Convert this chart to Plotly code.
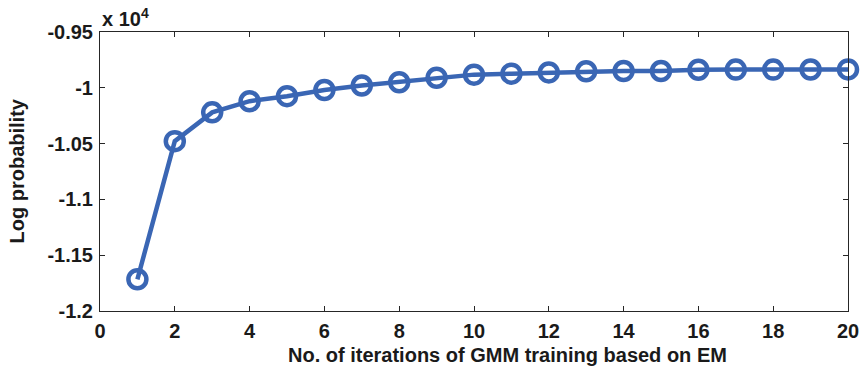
import plotly.graph_objects as go

iterations = list(range(1, 21))
log_prob = [-11716, -10478, -10220, -10120, -10075, -10020, -9980, -9950, -9910,
            -9882, -9873, -9862, -9852, -9850, -9850, -9838, -9837, -9837, -9836, -9835]

y_tick_vals = [-1.2, -1.15, -1.1, -1.05, -1.0, -0.95]
y_tick_text = ["-1.2", "-1.15", "-1.1", "-1.05", "-1", "-0.95"]
x_tick_vals = list(range(0, 21, 2))

x_title = "No. of iterations of GMM training based on EM"
y_title = "Log probability"
exp_label = "x 10<sup>4</sup>"

scale = 1e4
font_family = "Liberation Sans, Arial, sans-serif"
blue = "#3A66B4"
axis_col = "#262626"
txt_col = "#1a1a1a"

fig = go.Figure()
fig.add_trace(go.Scatter(
    x=iterations,
    y=[v / scale for v in log_prob],
    mode="lines+markers",
    line=dict(color=blue, width=4.5),
    marker=dict(symbol="circle-open", size=18, color=blue, line=dict(width=4.5, color=blue)),
    cliponaxis=False,
    showlegend=False,
))

axis_common = dict(
    showline=True, linecolor=axis_col, linewidth=1, mirror="ticks",
    ticks="inside", ticklen=5, tickcolor=axis_col, tickwidth=1,
    showgrid=False, zeroline=False, automargin=False,
    tickfont=dict(family=font_family, size=20, color=txt_col, weight="bold"),
)

fig.update_xaxes(range=[0, 20], tickvals=x_tick_vals, ticklabelstandoff=2, **axis_common)
fig.update_yaxes(range=[-1.2, -0.95], tickvals=y_tick_vals, ticktext=y_tick_text,
                 ticklabelstandoff=2, **axis_common)

title_font = dict(family=font_family, size=20, color=txt_col)
fig.add_annotation(xref="paper", yref="paper", x=0, y=1, xanchor="left", yanchor="bottom",
                   yshift=0, text="<b>" + exp_label + "</b>", showarrow=False,
                   font=title_font)
fig.add_annotation(xref="paper", yref="paper", x=0.545, y=0, xanchor="center", yanchor="middle",
                   yshift=-44, text="<b>" + x_title + "</b>", showarrow=False, font=title_font)
fig.add_annotation(xref="paper", yref="paper", x=0, y=0.5, xanchor="center", yanchor="middle",
                   xshift=-84, text="<b>" + y_title + "</b>", textangle=-90, showarrow=False,
                   font=title_font)

fig.update_layout(
    width=862, height=372,
    margin=dict(l=100, r=14, t=32, b=61),
    paper_bgcolor="white", plot_bgcolor="white",
)

fig.write_html("out.html", config={"displayModeBar": False},
               post_script="document.body.style.margin='0';")
